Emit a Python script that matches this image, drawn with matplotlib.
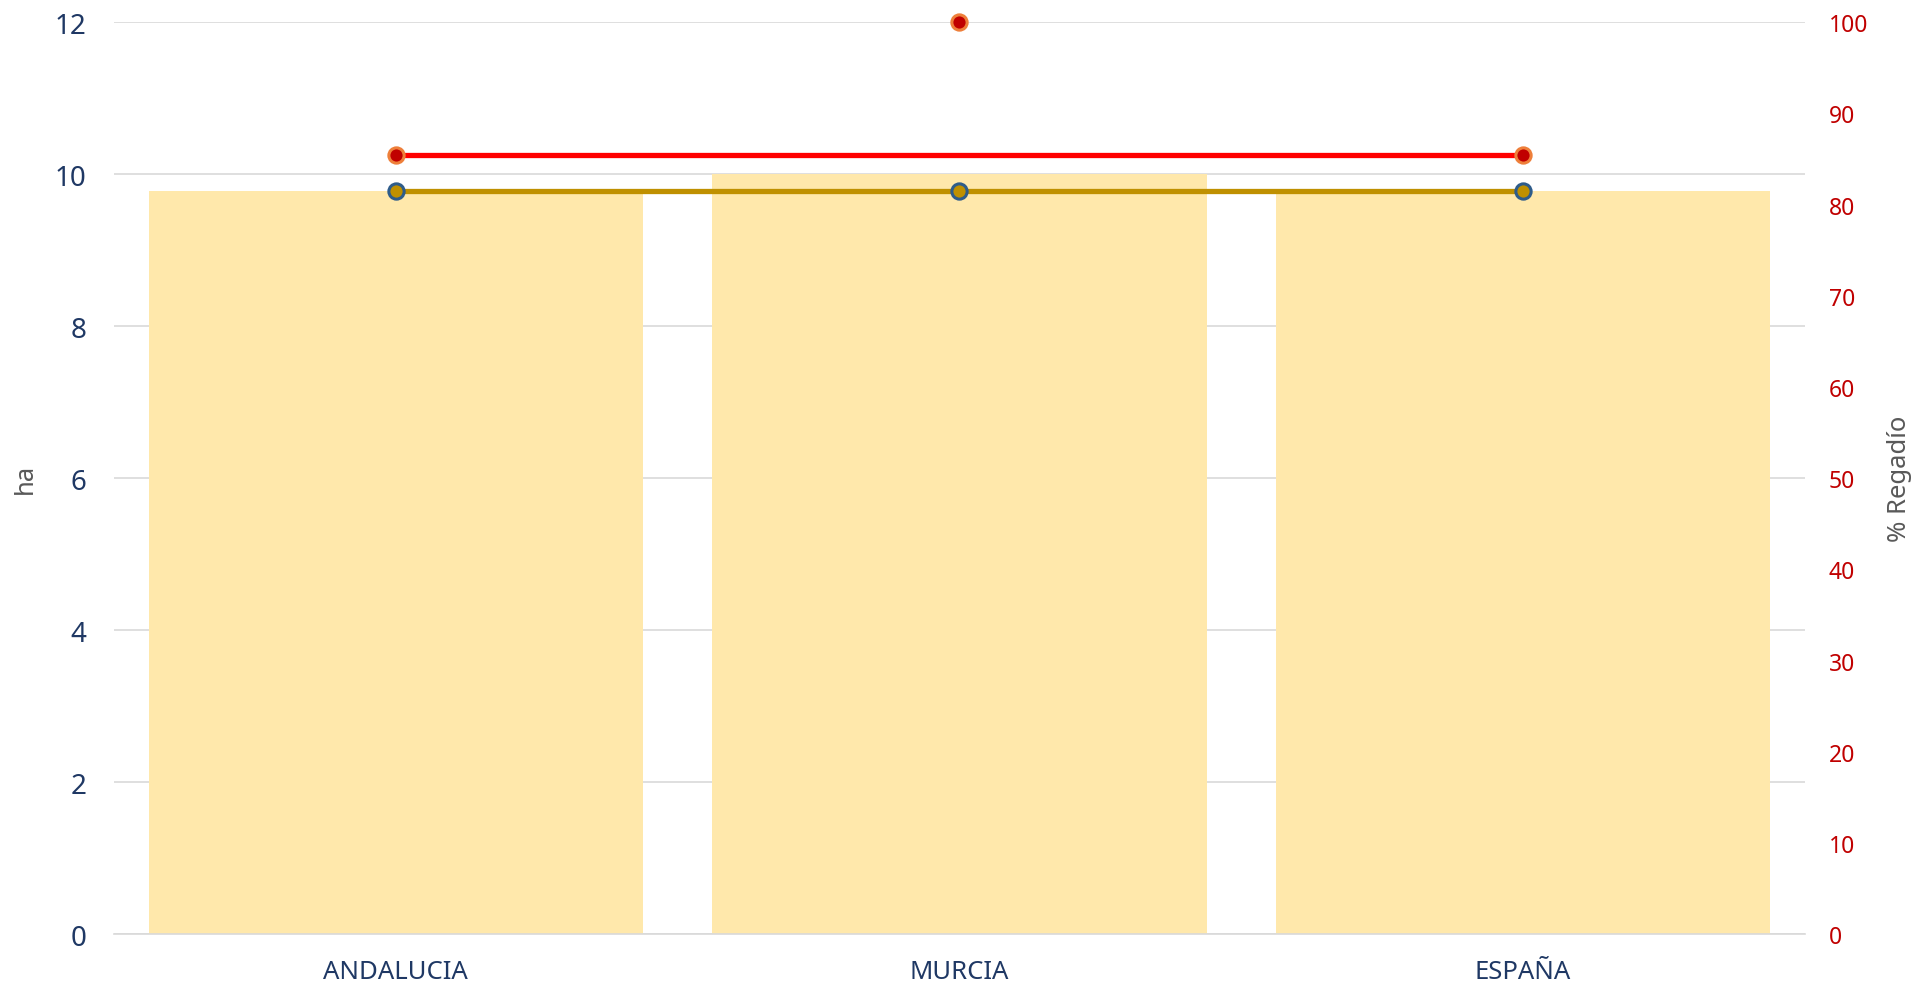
"""Superficie media (ha) por explotación y % regadío: Andalucía, Murcia, España."""

import matplotlib
matplotlib.use("Agg")
import matplotlib.pyplot as plt
import numpy as np

OUT_PATH = "out.png"

CATEGORIES = ["ANDALUCIA", "MURCIA", "ESPAÑA"]
HA_VALUES = [9.78, 10.0, 9.78]          # barras (eje izq.)
HA_SPAIN = [9.78, 9.78, 9.78]           # media España (eje izq.)
REGADIO_VALUES = [85.4, 100.0, 85.4]    # puntos % regadío (eje dcho.)
REGADIO_SPAIN = [85.4, 85.4, 85.4]      # línea España % regadío
LEFT_TICKS = [0, 2, 4, 6, 8, 10, 12]
RIGHT_TICKS = [0, 10, 20, 30, 40, 50, 60, 70, 80, 90, 100]

NAVY = "#1F3864"
RED_TXT = "#C00000"
GREY = "#595959"
GRID = "#D9D9D9"


def main() -> None:
    plt.rcParams["font.family"] = ["Noto Sans", "DejaVu Sans"]

    fig = plt.figure(figsize=(19.23, 9.87), dpi=100)
    ax = fig.add_axes([0.0593, 0.0524, 0.8793, 0.924])
    ax2 = ax.twinx()

    x = np.arange(len(CATEGORIES))
    ax.bar(x, HA_VALUES, width=0.877, color="#FFE8AB", zorder=2)
    ax.plot(x, HA_SPAIN, color="#BF9000", linewidth=3.8, marker="o",
            markersize=11, markerfacecolor="#BF9000", markeredgecolor="#2E5C8A",
            markeredgewidth=2.2, zorder=3)

    ax2.plot([x[0], x[-1]], [REGADIO_SPAIN[0], REGADIO_SPAIN[-1]],
             color="#FF0000", linewidth=3.8, zorder=3)
    ax2.plot(x, REGADIO_VALUES, linestyle="none", marker="o", markersize=11,
             markerfacecolor="#C00000", markeredgecolor="#EE7F3A",
             markeredgewidth=2.2, zorder=4, clip_on=False)

    ax.set_xlim(-0.5, 2.5)
    ax.set_ylim(0, 12)
    ax.set_yticks(LEFT_TICKS)
    ax2.set_ylim(0, 100)
    ax2.set_yticks(RIGHT_TICKS)

    ax.set_axisbelow(True)
    ax.yaxis.grid(True, color=GRID, linewidth=1.2, zorder=0)
    for a in (ax, ax2):
        for s in a.spines.values():
            s.set_visible(False)
    ax.spines["bottom"].set_visible(True)
    ax.spines["bottom"].set_color(GRID)
    ax.spines["bottom"].set_linewidth(1.2)

    ax.set_xticks(x, CATEGORIES)
    ax.tick_params(axis="x", length=0, pad=18, labelsize=18.5, labelcolor=NAVY)
    ax.tick_params(axis="y", length=0, pad=20, labelsize=20, labelcolor=NAVY)
    ax2.tick_params(axis="y", length=0, pad=17, labelsize=16.5, labelcolor=RED_TXT)

    ax.set_ylabel("ha", color=GREY, fontsize=18.5, labelpad=12)
    ax2.set_ylabel("% Regadío", color=GREY, fontsize=18.5, labelpad=14)

    fig.savefig(OUT_PATH, dpi=100)
    plt.close(fig)


if __name__ == "__main__":
    main()
